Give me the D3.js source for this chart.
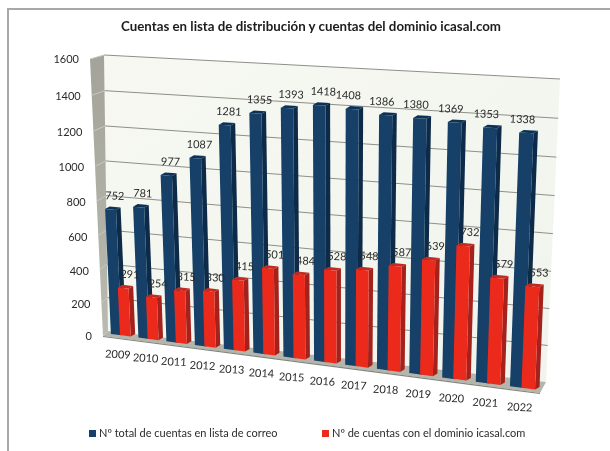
<!DOCTYPE html>
<html><head><meta charset="utf-8">
<script src="https://cdn.jsdelivr.net/npm/d3@7"></script>
<style>html,body{margin:0;padding:0;background:#fff}svg{display:block}text{font-family:Lato,sans-serif;fill:#2b2b2b}</style>
</head><body><div id="c"></div>
<script>
const years = ["2009","2010","2011","2012","2013","2014","2015","2016","2017","2018","2019","2020","2021","2022"];
const totalCuentas = [752,781,977,1087,1281,1355,1393,1418,1408,1386,1380,1369,1353,1338];
const dominioCuentas = [291,254,315,330,415,501,484,528,548,587,639,732,579,553];
const yTicks = [0,200,400,600,800,1000,1200,1400,1600];
const seriesNames = ["Nº total de cuentas en lista de correo","Nº de cuentas con el dominio icasal.com"];
const title = "Cuentas en lista de distribución y cuentas del dominio icasal.com";

const W=610,H=451;
// homography from unit square (u,t) to a quad: bl, br, tr, tl
function quad(bl,br,tr,tl){
  const [x0,y0]=bl,[x1,y1]=br,[x2,y2]=tr,[x3,y3]=tl;
  const dx1=x1-x2,dx2=x3-x2,dx3=x0-x1+x2-x3,dy1=y1-y2,dy2=y3-y2,dy3=y0-y1+y2-y3;
  const den=dx1*dy2-dx2*dy1;
  const g=(dx3*dy2-dx2*dy3)/den,h=(dx1*dy3-dx3*dy1)/den;
  const a=x1-x0+g*x1,b=x3-x0+h*x3,d=y1-y0+g*y1,e=y3-y0+h*y3;
  return (u,t)=>{const w=g*u+h*t+1;return [(a*u+b*t+x0)/w,(d*u+e*t+y0)/w];};
}
const wallBack = quad([108,331],[546,382],[560,79],[104,55]);
const wallFront= quad([103,336],[540,393],[553,86],[90,59]);
const barPlane = quad([104,333],[538,390],[551,81],[91,60]);

const x0=d3.scaleBand().domain(years).range([0.007,1.005]).paddingInner(0.28).paddingOuter(0.155);
const x1=d3.scaleBand().domain([0,1]).range([0,x0.bandwidth()]).paddingInner(-0.18);
const y=d3.scaleLinear().domain([0,1600]).range([0,1]);
const depth=[4.5,-2.6];
const pts=a=>a.map(p=>p.join(",")).join(" ");

const svg=d3.select("#c").append("svg").attr("width",W).attr("height",H);
const defs=svg.append("defs");
const f=defs.append("filter").attr("id","soft").attr("x","-5%").attr("y","-5%").attr("width","110%").attr("height","110%");
f.append("feGaussianBlur").attr("stdDeviation",0.4);
const g1=defs.append("linearGradient").attr("id","wall").attr("x1",0).attr("y1",0).attr("x2",1).attr("y2",1);
g1.append("stop").attr("offset",0).attr("stop-color","#f6f8f1");
g1.append("stop").attr("offset",1).attr("stop-color","#f1f4ee");
const g2=defs.append("linearGradient").attr("id","side").attr("x1",0).attr("y1",0).attr("x2",0).attr("y2",1);
g2.append("stop").attr("offset",0).attr("stop-color","#a3a399");
g2.append("stop").attr("offset",1).attr("stop-color","#b9bab0");

const root=svg.append("g").attr("filter","url(#soft)");
root.append("path").attr("d",`M8,${H} V9 H${W}`).attr("fill","none").attr("stroke","#a8a8a8").attr("stroke-width",2);

root.append("text").attr("x",311).attr("y",31).attr("text-anchor","middle")
  .attr("font-size",13.3).attr("font-weight",700).style("fill","#1c1c1c").text(title);

// walls and floor
root.append("polygon").attr("points",pts([wallBack(0,0),wallBack(1,0),wallBack(1,1),wallBack(0,1)])).attr("fill","url(#wall)");
root.append("polygon").attr("points",pts([wallFront(0,0),wallBack(0,0),wallBack(0,1),wallFront(0,1)])).attr("fill","url(#side)");
root.append("polygon").attr("points",pts([wallFront(0,0),wallFront(1,0),wallBack(1,0),wallBack(0,0)])).attr("fill","#b4b6ac");
root.append("line").attr("x1",wallFront(0,0)[0]).attr("y1",wallFront(0,0)[1]+.5).attr("x2",wallFront(1,0)[0]).attr("y2",wallFront(1,0)[1]+.5).attr("stroke","#85867e").attr("stroke-width",1.2);

// grid
yTicks.forEach(v=>{
  const t=y(v),a=wallFront(0,t),b=wallBack(0,t),c=wallBack(1,t);
  if(v>0){
    root.append("line").attr("x1",b[0]).attr("y1",b[1]).attr("x2",c[0]).attr("y2",c[1]).attr("stroke","#8f8f89").attr("stroke-width",1);
    root.append("line").attr("x1",a[0]).attr("y1",a[1]).attr("x2",b[0]).attr("y2",b[1]).attr("stroke","#c9c9c2").attr("stroke-width",1);
  }
  root.append("text").attr("x",a[0]-11).attr("y",a[1]+(v===0||v===1600?0:1)+4).attr("text-anchor","end").attr("font-size",11).text(v);
});

function bar(g,u0,u1,t,cols){
  const A=barPlane(u0,0),B=barPlane(u1,0),C=barPlane(u1,t),D=barPlane(u0,t);
  const sh=p=>[p[0]+depth[0],p[1]+depth[1]];
  g.append("polygon").attr("points",pts([B,sh(B),sh(C),C])).attr("fill",cols[1]);
  g.append("polygon").attr("points",pts([D,C,sh(C),sh(D)])).attr("fill",cols[2]);
  g.append("polygon").attr("points",pts([A,B,C,D])).attr("fill",cols[0]);
}
const blue=["#123f67","#0b2a48","#0e3355"],red=["#ec2b1f","#a5201b","#c32a20"];
const bars=root.append("g");
years.forEach((yr,i)=>{
  const s=x0(yr);
  bar(bars,s+x1(0),s+x1(0)+x1.bandwidth(),y(totalCuentas[i]),blue);
});
years.forEach((yr,i)=>{
  const s=x0(yr);
  bar(bars,s+x1(1),s+x1(1)+x1.bandwidth(),y(dominioCuentas[i]),red);
});

// data labels
function lab(u,t,dx,dy,txt){
  const p=barPlane(u,t);
  root.append("text").attr("transform",`translate(${p[0]+dx},${p[1]+dy}) rotate(2)`).attr("text-anchor","middle").attr("font-size",11).text(txt);
}
years.forEach((yr,i)=>{
  const s=x0(yr),b=x1.bandwidth();
  lab(s+x1(0)+b/2,y(totalCuentas[i]),i<=7?4:-4,-10,totalCuentas[i]);
  lab(s+x1(1)+b/2,y(dominioCuentas[i]),6.5,-10,dominioCuentas[i]);
  const p=barPlane(s+x0.bandwidth()/2,0);
  root.append("text").attr("transform",`translate(${p[0]-3},${p[1]+23}) rotate(3)`).attr("text-anchor","middle").attr("font-size",11).text(yr);
});

// legend
const lg=[[89,"#123f67",99],[322,"#ec2b1f",332]];
lg.forEach((l,i)=>{
  root.append("rect").attr("x",l[0]).attr("y",430).attr("width",7).attr("height",7).attr("fill",l[1]);
  root.append("text").attr("x",l[2]).attr("y",437).attr("font-size",11).text(seriesNames[i]);
});
</script></body></html>
